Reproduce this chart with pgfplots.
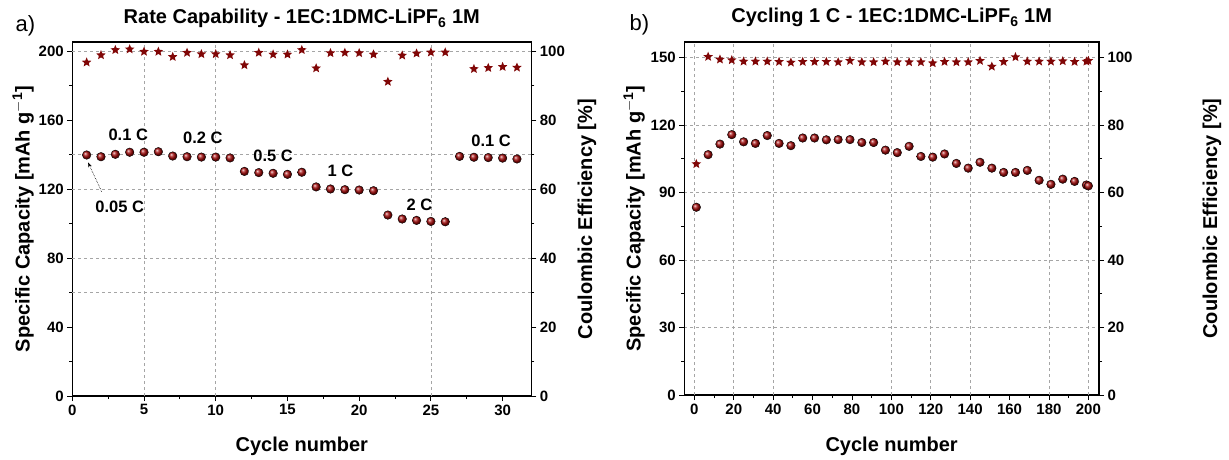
\documentclass[border=0pt]{standalone}
\usepackage{fontspec}
\setmainfont{Liberation Sans}
\usepackage{pgfplots}
\pgfplotsset{compat=1.18}
\usetikzlibrary{arrows.meta}
\definecolor{dred}{RGB}{128,6,6}
\definecolor{bred}{RGB}{165,12,12}
\definecolor{gridc}{RGB}{165,165,165}

\pgfdeclareplotmark{fstar}{%
  \pgfpathmoveto{\pgfpointpolar{90}{\pgfplotmarksize}}%
  \pgfpathlineto{\pgfpointpolar{126}{0.45\pgfplotmarksize}}%
  \pgfpathlineto{\pgfpointpolar{162}{\pgfplotmarksize}}%
  \pgfpathlineto{\pgfpointpolar{198}{0.45\pgfplotmarksize}}%
  \pgfpathlineto{\pgfpointpolar{234}{\pgfplotmarksize}}%
  \pgfpathlineto{\pgfpointpolar{270}{0.45\pgfplotmarksize}}%
  \pgfpathlineto{\pgfpointpolar{306}{\pgfplotmarksize}}%
  \pgfpathlineto{\pgfpointpolar{342}{0.45\pgfplotmarksize}}%
  \pgfpathlineto{\pgfpointpolar{18}{\pgfplotmarksize}}%
  \pgfpathlineto{\pgfpointpolar{54}{0.45\pgfplotmarksize}}%
  \pgfpathclose
  \pgfusepathqfill
}

\tikzset{anno/.style={font=\fontsize{16.5}{16.5}\selectfont\bfseries}}

\pgfplotsset{
  base/.style={
    scale only axis,
    clip=false,
    tick align=outside,
    axis line style={line width=1.1pt},
    every tick/.style={black, line width=0.9pt},
    major tick length=5pt,
    minor tick length=3pt,
    tick label style={font=\fontsize{15}{15}\selectfont\bfseries},
    /pgf/number format/assume math mode=true,
    label style={font=\fontsize{20}{20}\selectfont\bfseries},
    title style={font=\fontsize{20}{20}\selectfont\bfseries},
    extra tick style={grid=major, major tick length=0pt},
    major grid style={gridc, dashed, line width=0.6pt},
  },
  capplot/.style={only marks, mark=ball, mark size=4.3pt, ball color=bred, mark options={ball color=bred}},
  ceplot/.style={only marks, mark=fstar, mark size=5pt, color=dred, fill=dred},
}

\begin{document}
\begin{tikzpicture}
\useasboundingbox (0,0) rectangle (1229pt,459pt);

% ---------------- Panel a ----------------
\begin{axis}[base,
  at={(72.3pt,63pt)}, anchor=south west, width=459pt, height=354pt,
  xmin=0, xmax=32, ymin=0, ymax=205.2,
  xtick={0,5,...,30}, minor x tick num=1,
  ytick={0,40,...,200}, minor y tick num=1,
  xtick pos=bottom, ytick pos=left,
  extra x ticks={5,10,25}, extra x tick labels={},
  extra y ticks={60,80,120,140,200}, extra y tick labels={},
  xlabel={Cycle number},
  xlabel style={at={(axis description cs:0.5,-0.158)}, anchor=base},
  ylabel={Specific Capacity [mAh g$^{\mathbf{-1}}$]},
  ylabel style={at={(axis description cs:-0.107,0.5)}, anchor=center},
  title={Rate Capability - 1EC:1DMC-LiPF$_{\mathbf{6}}$ 1M},
  title style={at={(axis description cs:0.5,1.034)}, anchor=base},
]
\addplot[capplot] table {
x y
1 139.7
2 138.7
3 140.1
4 141.3
5 141.3
6 141.6
7 139.1
8 138.7
9 138.5
10 138.5
11 138.0
12 130.2
13 129.5
14 129.1
15 128.5
16 129.7
17 121.2
18 120.0
19 119.6
20 119.4
21 119.0
22 104.9
23 102.6
24 101.8
25 101.2
26 101.0
27 138.9
28 138.4
29 138.2
30 137.9
31 137.4
};
\node[anno] at (axis cs:3.9,151.3) {0.1 C};
\node[anno] at (axis cs:9.1,149.8) {0.2 C};
\node[anno] at (axis cs:14.0,139.3) {0.5 C};
\node[anno] at (axis cs:18.7,130.8) {1 C};
\node[anno] at (axis cs:24.2,111.1) {2 C};
\node[anno] at (axis cs:29.2,147.8) {0.1 C};
\node[anno] at (axis cs:3.3,109.4) {0.05 C};
\draw[densely dotted, line width=0.6pt, -{Stealth[length=5pt,width=3.5pt]}] (axis cs:2.05,118.4) -- (axis cs:1.1,135.4);
\end{axis}

\begin{axis}[base,
  at={(72.3pt,63pt)}, anchor=south west, width=459pt, height=354pt,
  xmin=0, xmax=32, ymin=0, ymax=102.6,
  axis y line*=right, axis x line=none,
  ytick={0,20,...,100}, minor y tick num=1,
  ylabel={Coulombic Efficiency [\%]},
  ylabel style={at={(axis description cs:1.121,0.5)}, anchor=center},
]
\addplot[ceplot] table {
x y
1 96.7
2 98.8
3 100.3
4 100.5
5 99.8
6 99.8
7 98.3
8 99.5
9 99.1
10 99.1
11 98.8
12 95.9
13 99.5
14 99.0
15 99.0
16 100.3
17 95.0
18 99.4
19 99.5
20 99.4
21 99.0
22 91.1
23 98.7
24 99.3
25 99.6
26 99.6
28 94.8
29 95.1
30 95.4
31 95.2
};
\end{axis}

% ---------------- Panel b ----------------
\begin{axis}[base,
  at={(684.3pt,64pt)}, anchor=south west, width=414.7pt, height=353pt,
  xmin=-5.1, xmax=205.4, ymin=0, ymax=157,
  xtick={0,20,...,200}, minor x tick num=1,
  ytick={0,30,...,150}, minor y tick num=1,
  xtick pos=bottom, ytick pos=left,
  ymajorgrids,
  extra x ticks={0,20,40,100,120,140,180,200}, extra x tick labels={},
  xlabel={Cycle number},
  xlabel style={at={(axis description cs:0.5,-0.16)}, anchor=base},
  ylabel={Specific Capacity [mAh g$^{\mathbf{-1}}$]},
  ylabel style={at={(axis description cs:-0.121,0.5)}, anchor=center},
  title={Cycling 1 C - 1EC:1DMC-LiPF$_{\mathbf{6}}$ 1M},
  title style={at={(axis description cs:0.5,1.037)}, anchor=base},
]
\addplot[capplot] table {
x y
1 83.5
7 106.9
13 111.6
19 115.8
25 112.6
31 111.9
37 115.4
43 111.9
49 110.9
55 114.3
61 114.3
67 113.5
73 113.6
79 113.6
85 112.3
91 112.3
97 108.9
103 107.8
109 110.6
115 106.1
121 105.8
127 107.2
133 103.0
139 100.9
145 103.5
151 100.9
157 99.0
163 99.0
169 99.9
175 95.5
181 93.7
187 96.0
193 95.0
199 93.4
200 93.0
};
\end{axis}

\begin{axis}[base,
  at={(684.3pt,64pt)}, anchor=south west, width=414.7pt, height=353pt,
  xmin=-5.1, xmax=205.4, ymin=0, ymax=104.67,
  axis y line*=right, axis x line=none,
  ytick={0,20,...,100}, minor y tick num=1,
  ylabel={Coulombic Efficiency [\%]},
  ylabel style={at={(axis description cs:1.2725,0.5)}, anchor=center},
]
\addplot[ceplot] table {
x y
1 68.5
7 100.3
13 99.5
19 99.3
25 98.9
31 98.9
37 98.9
43 98.8
49 98.6
55 98.8
61 98.8
67 98.8
73 98.7
79 99.1
85 98.7
91 98.7
97 98.9
103 98.7
109 98.7
115 98.7
121 98.4
127 98.8
133 98.7
139 98.7
145 99.1
151 97.4
157 98.8
163 100.2
169 98.9
175 98.9
181 98.9
187 99.0
193 98.8
199 98.9
200 99.1
};
\end{axis}

\node[anchor=base west, font=\fontsize{22}{22}\selectfont] at (12pt,427pt) {a)};
\node[anchor=base west, font=\fontsize{22}{22}\selectfont] at (626pt,428pt) {b)};
\end{tikzpicture}
\end{document}
